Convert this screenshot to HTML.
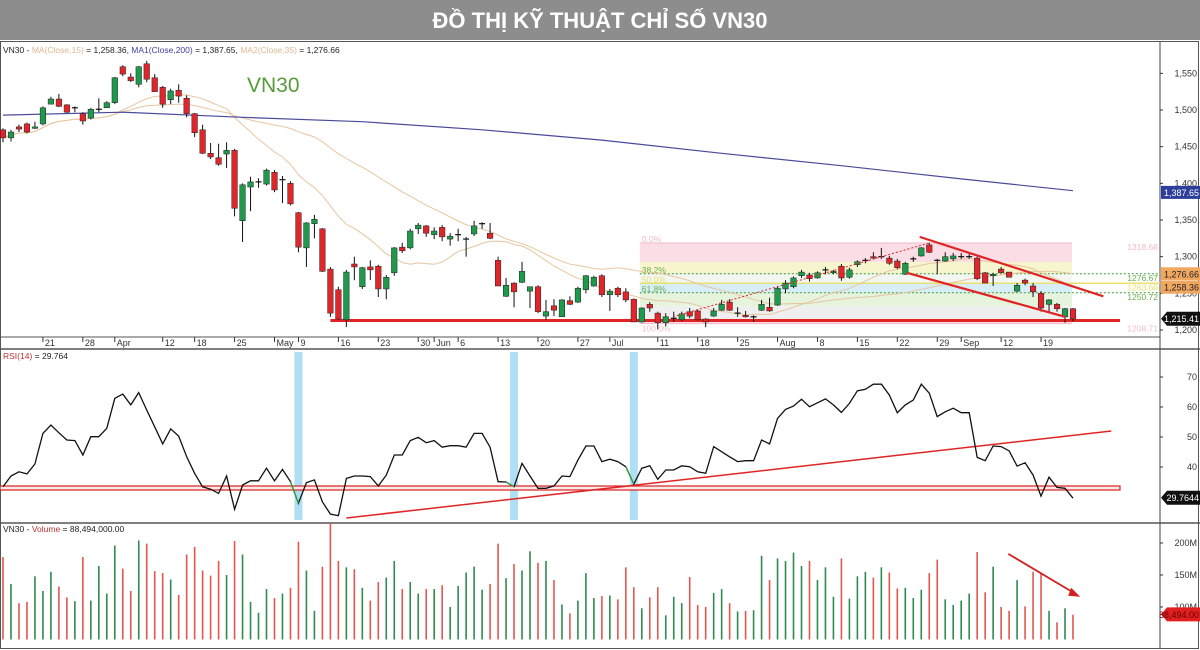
<!DOCTYPE html>
<html><head><meta charset="utf-8"><title>VN30</title>
<style>
html,body{margin:0;padding:0;background:#fff;width:1200px;height:650px;overflow:hidden}
svg text{font-family:"Liberation Sans","DejaVu Sans",sans-serif}
</style></head>
<body>
<svg id="chart" xmlns="http://www.w3.org/2000/svg" width="1200" height="650" viewBox="0 0 1200 650">
  <rect x="0" y="0" width="1200" height="40" fill="#8d8d8d"/>
  <text x="600" y="28" text-anchor="middle" fill="#fff" font-size="22" font-weight="bold" style="font-family:'Liberation Sans Narrow','Liberation Sans','Noto Sans CJK SC',sans-serif">ĐỒ THỊ KỸ THUẬT CHỈ SỐ VN30</text>
  <g id="panels">
    <rect x="0.5" y="41.5" width="1198" height="607" fill="none" stroke="#555" stroke-width="1"/>
    <line x1="0" y1="337" x2="1160" y2="337" stroke="#555"/>
    <line x1="0" y1="349" x2="1200" y2="349" stroke="#555" stroke-width="1.5"/>
    <line x1="0" y1="523" x2="1200" y2="523" stroke="#555" stroke-width="1.5"/>
    <line x1="1160" y1="42" x2="1160" y2="648" stroke="#444"/>
  </g>
  <g id="fib"></g>
  <g id="main"></g>
  <g id="rsi"></g>
  <g id="vol"></g>
  <g id="axes"></g>
  <text x="3" y="53" font-size="8.5" fill="#222">VN30 - <tspan fill="#e0b890">MA(Close,15)</tspan> = 1,258.36, <tspan fill="#4040a0">MA1(Close,200)</tspan> = 1,387.65, <tspan fill="#e0b890">MA2(Close,35)</tspan> = 1,276.66</text>
  <text x="247" y="92" font-size="21" fill="#5a9a3a">VN30</text>
  <text x="3" y="359" font-size="8.5" fill="#222"><tspan fill="#c03030">RSI(14)</tspan> = 29.764</text>
  <text x="3" y="532" font-size="8.5" fill="#222">VN30 - <tspan fill="#c03030">Volume</tspan> = 88,494,000.00</text>
</svg>
<script>
const opens=[1473,1462,1477,1481,1475,1481,1508,1515,1507,1503,1495,1489,1501,1503,1510,1559,1545,1535,1563,1544,1531,1514,1527,1516,1495,1473,1441,1435,1440,1445,1349,1395,1402,1399,1415,1405,1400,1360,1312,1345,1338,1283,1255,1214,1290,1259,1286,1287,1256,1278,1313,1312,1338,1342,1330,1340,1324,1330,1324,1331,1345,1332,1295,1246,1264,1265,1253,1259,1219,1233,1218,1240,1238,1255,1260,1274,1248,1257,1252,1242,1211,1235,1223,1210,1216,1214,1225,1226,1215,1219,1227,1238,1223,1220,1218,1227,1231,1234,1256,1259,1274,1275,1271,1282,1278,1287,1272,1289,1295,1300,1300,1298,1294,1276,1297,1301,1316,1295,1294,1297,1300,1300,1298,1278,1274,1283,1279,1253,1268,1260,1250,1235,1235,1218,1229];
const closes=[1462,1470,1474,1470,1477,1503,1515,1505,1497,1503,1485,1501,1501,1510,1544,1549,1540,1559,1542,1525,1508,1526,1519,1495,1469,1441,1436,1426,1445,1366,1398,1402,1402,1418,1391,1405,1372,1313,1346,1351,1280,1223,1215,1279,1286,1285,1282,1256,1272,1312,1308,1335,1343,1332,1335,1327,1328,1330,1324,1342,1345,1325,1260,1261,1252,1280,1259,1225,1225,1227,1241,1235,1257,1274,1272,1248,1253,1248,1241,1211,1230,1230,1210,1218,1216,1222,1219,1214,1211,1226,1235,1227,1223,1218,1218,1235,1226,1257,1264,1271,1279,1270,1278,1282,1280,1271,1282,1293,1295,1298,1300,1291,1285,1291,1297,1312,1306,1294,1300,1301,1300,1300,1270,1264,1276,1278,1272,1261,1264,1252,1230,1241,1229,1229,1215];
const highs=[1475,1473,1480,1483,1484,1505,1518,1522,1508,1505,1497,1503,1516,1512,1545,1561,1550,1560,1567,1549,1533,1529,1535,1520,1496,1480,1455,1454,1456,1447,1400,1409,1407,1420,1418,1410,1403,1361,1347,1357,1339,1286,1259,1282,1300,1286,1295,1289,1275,1313,1319,1338,1346,1343,1340,1343,1332,1338,1327,1349,1347,1346,1300,1271,1265,1293,1259,1261,1241,1242,1242,1246,1259,1275,1274,1276,1256,1259,1257,1243,1231,1238,1225,1223,1225,1225,1230,1228,1216,1230,1241,1242,1231,1226,1220,1241,1244,1259,1268,1273,1282,1278,1280,1286,1282,1290,1285,1295,1298,1306,1312,1301,1297,1293,1300,1313,1319,1297,1306,1305,1305,1304,1300,1279,1278,1286,1279,1264,1270,1264,1253,1242,1237,1230,1230];
const lows=[1456,1457,1470,1468,1474,1479,1508,1504,1496,1497,1480,1487,1497,1503,1508,1546,1538,1531,1538,1525,1503,1508,1510,1490,1463,1440,1433,1424,1421,1355,1320,1362,1394,1397,1388,1373,1370,1306,1286,1325,1279,1218,1214,1204,1268,1256,1268,1245,1242,1274,1305,1310,1331,1327,1324,1321,1315,1321,1300,1328,1338,1324,1260,1245,1231,1264,1230,1223,1214,1219,1218,1234,1237,1250,1259,1245,1226,1245,1238,1211,1210,1225,1201,1205,1211,1212,1216,1213,1204,1218,1226,1226,1218,1217,1211,1226,1225,1233,1250,1257,1271,1266,1270,1276,1276,1267,1270,1286,1291,1297,1297,1289,1283,1275,1293,1300,1305,1276,1293,1294,1297,1297,1268,1264,1260,1278,1272,1252,1261,1245,1225,1225,1225,1210,1212];
const volumesM=[178,136,106,108,148,125,155,132,115,109,178,110,164,121,196,160,125,204,199,156,153,143,119,182,194,157,149,172,150,203,182,108,91,128,114,121,130,202,157,94,163,231,172,162,159,130,110,139,146,172,128,139,121,128,128,134,100,133,154,163,127,136,199,145,167,157,187,169,172,142,104,90,110,153,114,117,118,112,162,131,98,115,131,87,116,106,147,103,100,122,128,106,93,94,95,180,142,176,172,185,164,172,142,162,116,176,113,148,155,146,162,154,129,130,114,127,153,174,112,103,110,121,186,123,163,100,94,142,101,155,153,94,76,98,88];
const rsiValues=[33.4,37,38.4,37.7,41,51.2,54,51.4,49,48.8,44,50.1,50.1,52.9,62.9,64.3,60.7,64.8,59,53.4,47.7,52.7,50.3,43.4,37.9,33.4,32.6,31.2,37,25.9,34,35.4,35.4,39.6,35.4,39.2,35.1,27.9,34.8,35.7,28.4,24.3,23.8,36.2,37,37,36.8,33.7,37.3,44,44,48.8,49.9,48.1,48.8,46.6,47.1,47.1,46.6,51.2,51.2,46.6,35.1,35,33.4,41.2,37,32.9,32.9,33.7,37,36.8,42.3,47,47,41.8,42.6,41.8,40.1,34.3,39.6,40.4,35.9,39,39,40.4,40.1,38.4,37.9,46.8,45.1,43.4,41.8,42.1,42.1,49,47.7,56.2,59.2,60.3,62.6,60.1,61.4,62.7,60.7,58.2,61.2,65.4,65.9,67.6,67.6,64,58.1,60.7,62.3,67.6,64.6,56.8,58.4,59.6,58.1,58.1,43.2,42.1,47,46.8,45.4,40.3,41.4,37.3,30.3,36.6,33.2,32.9,29.6];
const ma200Idx=[0,15,30,45,60,75,90,105,120,134];
const ma200Values=[1493,1497,1490,1484,1473,1459,1441,1424,1406,1390];
const priceTicks=[1200,1250,1300,1350,1400,1450,1500,1550];
const priceTickLabels=["1,200","1,250","1,300","1,350","1,400","1,450","1,500","1,550"];
const rsiTicks=[40,50,60,70];
const volTicks=[100,150,200];
const volTickLabels=["100M","150M","200M"];
const dateIdx=[5,10,14,20,24,29,34,37,42,47,52,54,57,62,67,72,76,82,87,92,97,102,107,112,117,120,125,130];
const dateLabels=["21","28","Apr","12","18","25","May","9","16","23","30","Jun","6","13","20","27","Jul","11","18","25","Aug","8","15","22","29","Sep","12","19"];
const fibLevels=[0,23.6,38.2,50,61.8,78.6,100];
const fibHigh=1318.68, fibLow=1208.71;
const fibStartIdx=80, fibEndIdx=134;
const supportLevel=1213;
const rsiBandIdx=[37,64,79];
const rsiHorizontal=33;

const NS="http://www.w3.org/2000/svg";
const N=closes.length;
const xOf=i=>3+i*7.985;
const yP=p=>330-(p-1200)*0.7333;
const yR=v=>467-(v-40)*3;
const yV=v=>607-(v-100)*0.64;
function mk(tag,attrs,parent,txt){const e=document.createElementNS(NS,tag);for(const k in attrs)e.setAttribute(k,attrs[k]);if(txt!==undefined)e.textContent=txt;parent.appendChild(e);return e;}
const gMain=document.getElementById('main'),gFib=document.getElementById('fib'),gR=document.getElementById('rsi'),gV=document.getElementById('vol'),gA=document.getElementById('axes');

// Fibonacci
const fx0=xOf(fibStartIdx)-2, fx1=xOf(fibEndIdx)-1;
const fibCols=["#fbdde6","#f7f5cd","#f2f7f2","#d8eef6","#e6f3dd","#efefef"];
const fibLevelPrice=l=>fibHigh-(fibHigh-fibLow)*l/100;
for(let k=0;k<fibLevels.length-1;k++){
  const y0=yP(fibLevelPrice(fibLevels[k])),y1=yP(fibLevelPrice(fibLevels[k+1]));
  const r=mk('rect',{x:fx0,y:y0,width:fx1-fx0,height:y1-y0,fill:fibCols[k]},gFib);
  
  
}
{const yb=yP(fibLow);const r=mk('rect',{x:fx0,y:yb-4,width:fx1-fx0,height:4,fill:"#fbdde6"},gFib);
}
mk('line',{x1:fx0,y1:yP(fibHigh),x2:fx1,y2:yP(fibHigh),stroke:"#f2b8c8"},gFib);
mk('line',{x1:fx0,y1:yP(fibLow),x2:fx1,y2:yP(fibLow),stroke:"#f2b8c8"},gFib);
const fibLineDefs=[[38.2,"#3a9a3a","2,2"],[50,"#e8e070",""],[61.8,"#3a9a3a","2,2"]];
fibLineDefs.forEach(d=>{const y=yP(fibLevelPrice(d[0]));
  const l=mk('line',{x1:fx0,y1:y,x2:1160,y2:y,stroke:d[1],'stroke-width':d[2]?1:1.5,'stroke-dasharray':d[2]},gFib);
  });
const fibTextDefs=[[0,"0.0%","#f4b8c8"],[38.2,"38.2%","#6ab04a"],[50,"50.0%","#e8e070"],[61.8,"61.8%","#6ab04a"],[100,"100.0%","#f0c0cc"]];
fibTextDefs.forEach(d=>{const y=yP(fibLevelPrice(d[0]))+ (d[0]==100?8:-1);
  const t=mk('text',{x:fx0+2,y:y,'font-size':8.5,fill:d[2]},gFib,d[1]);
  
  const v=fibLevelPrice(d[0]).toFixed(2);
  const t2=mk('text',{x:1158,y:y+(d[0]==100?0:8),'font-size':8.5,fill:d[2],'text-anchor':'end'},gFib,v);
  });

// support line
{const l=mk('line',{x1:xOf(41),y1:yP(supportLevel),x2:1120,y2:yP(supportLevel),stroke:"#e02424",'stroke-width':3},gMain);
}

// moving averages
function maLine(period){const pts=[];for(let i=0;i<N;i++){const s=Math.max(0,i-period+1);let sum=0;for(let j=s;j<=i;j++)sum+=closes[j];pts.push(xOf(i).toFixed(1)+','+yP(sum/(i-s+1)).toFixed(1));}return pts.join(' ');}
{const p=mk('polyline',{points:maLine(15),fill:'none',stroke:'#e6c6a0','stroke-width':1},gMain);}
{const p=mk('polyline',{points:maLine(35),fill:'none',stroke:'#e6c6a0','stroke-width':1},gMain);}
{const pts=ma200Idx.map((ix,k)=>xOf(ix).toFixed(1)+','+yP(ma200Values[k]).toFixed(1)).join(' ');
const p=mk('polyline',{points:pts,fill:'none',stroke:'#4a4a9a','stroke-width':1.2},gMain);}

// candles
for(let i=0;i<N;i++){
  const x=xOf(i),o=opens[i],c=closes[i];
  const g=mk('g',{},gMain);
  
  
  mk('line',{x1:x,y1:yP(highs[i]),x2:x,y2:yP(lows[i]),stroke:'#111','stroke-width':1},g);
  const top=yP(Math.max(o,c)),bot=yP(Math.min(o,c));
  if(bot-top<1.2){mk('line',{x1:x-3,y1:top,x2:x+3,y2:top,stroke:'#111','stroke-width':1.2},g);}
  else mk('rect',{x:x-2.8,y:top,width:5.6,height:bot-top,fill:c>=o?'#1f9a4c':'#e0262a',stroke:'#222','stroke-width':0.5},g);
}

// trend lines on price
function tl(i0,p0,i1,p1,name,extra){const l=mk('line',Object.assign({x1:xOf(i0),y1:yP(p0),x2:xOf(i1),y2:yP(p1),stroke:'#e02424','stroke-width':2.2},extra||{}),gMain);}
tl(114.8,1327,137.8,1246,'channel-upper-line');
tl(113.2,1278,133,1218,'channel-lower-line');
tl(83.9,1218,116.1,1319,'uptrend-dotted-line',{'stroke-width':1,'stroke-dasharray':'2,2'});

// price axis
priceTicks.forEach((p,k)=>{const y=yP(p);mk('line',{x1:1160,y1:y,x2:1163,y2:y,stroke:'#333'},gA);
 const t=mk('text',{x:1197,y:y+3,'font-size':9,fill:'#333','text-anchor':'end'},gA,priceTickLabels[k]);});
function tag(y,txt,bg,fg,name,arrow){const g=mk('g',{},gA);
 if(arrow)mk('polygon',{points:`1161,${y} 1167,${y-7} 1200,${y-7} 1200,${y+7} 1167,${y+7}`,fill:bg},g);
 else mk('rect',{x:1161,y:y-6.5,width:39,height:13,fill:bg},g);
 mk('text',{x:1199,y:y+3.5,'font-size':9,fill:fg,'text-anchor':'end'},g,txt);}
tag(yP(1387.65),"1,387.65","#2d3e9a","#fff","ma200-value-tag");
tag(yP(1276.66),"1,276.66","#f0a860","#222","ma35-value-tag");
tag(yP(1258.36),"1,258.36","#f0a860","#222","ma15-value-tag");
tag(yP(1215.41),"1,215.41","#111","#fff","last-price-tag",true);

// date axis
dateIdx.forEach((ix,k)=>{const x=xOf(ix);mk('line',{x1:x,y1:337,x2:x,y2:342,stroke:'#333'},gA);
 const t=mk('text',{x:x+2,y:346,'font-size':9,fill:'#333'},gA,dateLabels[k]);});

// RSI
rsiBandIdx.forEach(ix=>{const r=mk('rect',{x:xOf(ix)-4,y:352,width:8,height:168,fill:'#aedff4'},gR);});
{const y=yR(rsiHorizontal);const r=mk('rect',{x:0,y:y-2,width:1120,height:4,fill:'#fde8e8',stroke:'#d42020','stroke-width':1.2},gR);}
{const l=mk('line',{x1:xOf(43),y1:yR(23),x2:xOf(138.8),y2:yR(52),stroke:'#e02424','stroke-width':1.5},gR);}
{const pts=rsiValues.map((v,i)=>xOf(i).toFixed(1)+','+yR(v).toFixed(1)).join(' ');
const p=mk('polyline',{points:pts,fill:'none',stroke:'#111','stroke-width':1.3},gR);}
rsiBandIdx.forEach(ix=>{const l=mk('line',{x1:xOf(ix-1),y1:yR(rsiValues[ix-1]),x2:xOf(ix),y2:yR(rsiValues[ix]),stroke:'#3aa040','stroke-width':1.4},gR);});
rsiTicks.forEach(v=>{const y=yR(v);mk('line',{x1:1160,y1:y,x2:1163,y2:y,stroke:'#333'},gA);const t=mk('text',{x:1197,y:y+3,'font-size':9,fill:'#333','text-anchor':'end'},gA,String(v));});
tag(yR(29.7644),"29.7644","#111","#fff","rsi-value-tag",true);

// Volume
const volBase=639.5;
for(let i=0;i<N;i++){const x=xOf(i);const up=closes[i]>=opens[i];
 const l=mk('line',{x1:x,y1:volBase,x2:x,y2:Math.max(523,yV(volumesM[i])),stroke:up?'#2e8a4e':'#e0574f','stroke-width':1.6},gV);
 
 }
{const x0=xOf(125.9),y0=yV(183),x1=xOf(134.9),y1=yV(116);
 const l=mk('line',{x1:x0,y1:y0,x2:x1-4,y2:y1-2.5,stroke:'#d02020','stroke-width':1.8},gV);
 mk('polygon',{points:`${x1},${y1} ${x1-9},${y1-9} ${x1-12},${y1-1}`,fill:'#d02020'},gV);}
volTicks.forEach((v,k)=>{const y=yV(v);mk('line',{x1:1160,y1:y,x2:1163,y2:y,stroke:'#333'},gA);const t=mk('text',{x:1197,y:y+3,'font-size':9,fill:'#333','text-anchor':'end'},gA,volTickLabels[k]);});
tag(yV(88.494),"88,494.00","#e02020","#600","volume-value-tag",true);
</script>
</body></html>
